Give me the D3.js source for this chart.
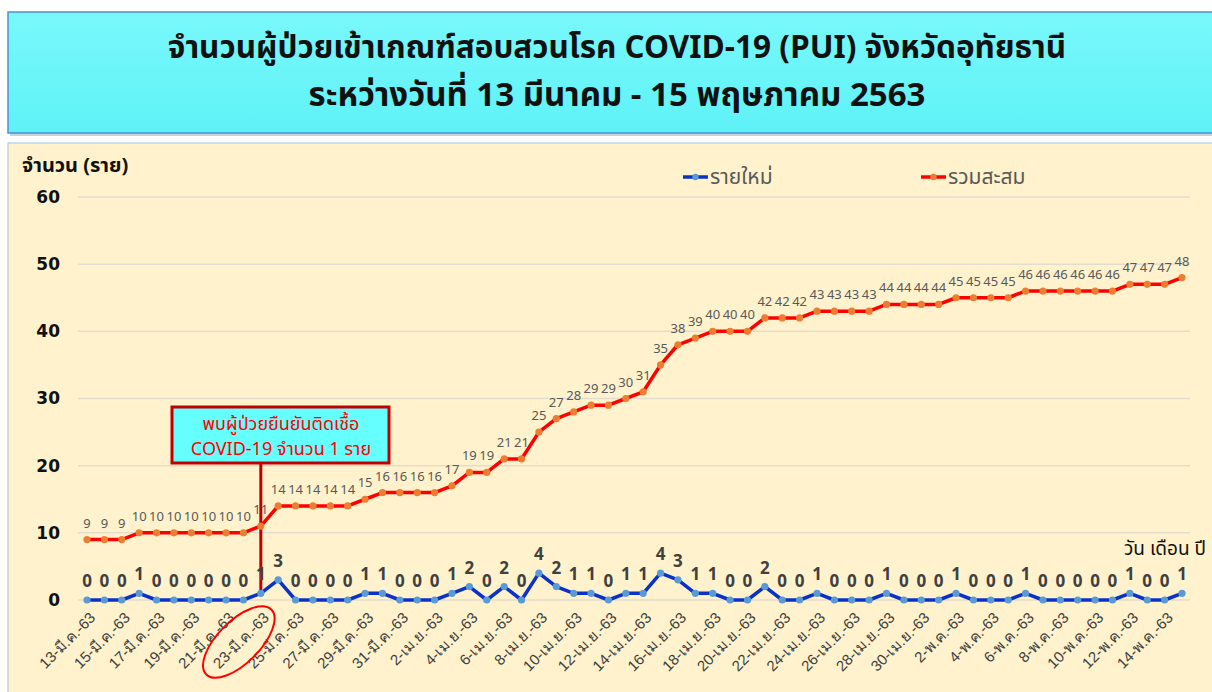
<!DOCTYPE html>
<html>
<head>
<meta charset="utf-8">
<script src="https://cdn.jsdelivr.net/npm/d3@7"></script>
<style>
  body { margin: 0; background: #fff; }
  svg { display: block; font-family: "Noto Sans Thai", "Leelawadee UI", Tahoma, "DejaVu Sans", sans-serif; }
</style>
</head>
<body>
<svg id="chart" width="1212" height="692"></svg>
<script>
// วันที่ (แกน X)
var dates = [
  "13-มี.ค.-63","14-มี.ค.-63","15-มี.ค.-63","16-มี.ค.-63","17-มี.ค.-63","18-มี.ค.-63","19-มี.ค.-63","20-มี.ค.-63",
  "21-มี.ค.-63","22-มี.ค.-63","23-มี.ค.-63","24-มี.ค.-63","25-มี.ค.-63","26-มี.ค.-63","27-มี.ค.-63","28-มี.ค.-63",
  "29-มี.ค.-63","30-มี.ค.-63","31-มี.ค.-63",
  "1-เม.ย.-63","2-เม.ย.-63","3-เม.ย.-63","4-เม.ย.-63","5-เม.ย.-63","6-เม.ย.-63","7-เม.ย.-63","8-เม.ย.-63",
  "9-เม.ย.-63","10-เม.ย.-63","11-เม.ย.-63","12-เม.ย.-63","13-เม.ย.-63","14-เม.ย.-63","15-เม.ย.-63","16-เม.ย.-63",
  "17-เม.ย.-63","18-เม.ย.-63","19-เม.ย.-63","20-เม.ย.-63","21-เม.ย.-63","22-เม.ย.-63","23-เม.ย.-63","24-เม.ย.-63",
  "25-เม.ย.-63","26-เม.ย.-63","27-เม.ย.-63","28-เม.ย.-63","29-เม.ย.-63","30-เม.ย.-63",
  "1-พ.ค.-63","2-พ.ค.-63","3-พ.ค.-63","4-พ.ค.-63","5-พ.ค.-63","6-พ.ค.-63","7-พ.ค.-63","8-พ.ค.-63",
  "9-พ.ค.-63","10-พ.ค.-63","11-พ.ค.-63","12-พ.ค.-63","13-พ.ค.-63","14-พ.ค.-63","15-พ.ค.-63"
];

// รายใหม่
var newCases = [
  0,0,0,1,0,0,0,0,0,0,1,3,0,0,0,0,1,1,0,
  0,0,1,2,0,2,0,4,2,1,1,0,1,1,4,3,1,1,0,0,2,0,0,1,0,0,0,1,0,0,
  0,1,0,0,0,1,0,0,0,0,0,1,0,0,1
];

// รวมสะสม
var cumulative = [
  9,9,9,10,10,10,10,10,10,10,11,14,14,14,14,14,15,16,16,
  16,16,17,19,19,21,21,25,27,28,29,29,30,31,35,38,39,40,40,40,42,42,42,43,43,43,43,44,44,44,
  44,45,45,45,45,46,46,46,46,46,46,47,47,47,48
];

var yTicks = [0, 10, 20, 30, 40, 50, 60];

var titleLines = [
  "จำนวนผู้ป่วยเข้าเกณฑ์สอบสวนโรค COVID-19 (PUI) จังหวัดอุทัยธานี",
  "ระหว่างวันที่ 13 มีนาคม - 15 พฤษภาคม 2563"
];
var noteLines = ["พบผู้ป่วยยืนยันติดเชื้อ", "COVID-19 จำนวน 1 ราย"];
var noteDate = "23-มี.ค.-63";

var svg = d3.select("#chart");

// ----- title box
var defs = svg.append("defs");
var grad = defs.append("linearGradient").attr("id", "tg").attr("x1", 0).attr("y1", 0).attr("x2", 0).attr("y2", 1);
grad.append("stop").attr("offset", "0%").attr("stop-color", "#79f8fb");
grad.append("stop").attr("offset", "100%").attr("stop-color", "#5ef2f7");

svg.append("rect").attr("x", 10).attr("y", 14).attr("width", 1204).attr("height", 122)
    .attr("fill", "#9aa6b0").attr("opacity", 0.5);
svg.append("rect").attr("x", 8).attr("y", 12).attr("width", 1206).attr("height", 121)
    .attr("fill", "url(#tg)").attr("stroke", "#4f8fd6").attr("stroke-width", 1.5);

svg.selectAll(".title").data(titleLines).enter().append("text")
    .attr("class", "title")
    .attr("x", 617).attr("y", function(d, i) { return 58 + i * 48; })
    .attr("text-anchor", "middle")
    .attr("font-size", function(d, i) { return i === 0 ? 31.5 : 33; })
    .attr("font-weight", "bold").attr("fill", "#111")
    .text(function(d) { return d; });

// ----- chart area
svg.append("rect").attr("x", 8).attr("y", 143).attr("width", 1206).attr("height", 552)
    .attr("fill", "#fff2cc").attr("stroke", "#9cc3e6").attr("stroke-width", 1);

var margin = {left: 78, right: 22, top: 197, bottom: 92};
var plotW = 1212 - margin.left - margin.right,
    plotH = 692 - margin.top - margin.bottom;

var x = d3.scalePoint().domain(dates).range([87 - margin.left, 1182 - margin.left]);
var y = d3.scaleLinear().domain([0, 60]).range([plotH, 0]);

var g = svg.append("g").attr("transform", "translate(" + margin.left + "," + margin.top + ")");

// gridlines
g.append("g").selectAll("line").data(yTicks).enter().append("line")
    .attr("x1", 0).attr("x2", plotW)
    .attr("y1", function(d) { return y(d); }).attr("y2", function(d) { return y(d); })
    .attr("stroke", "#e3ddd0").attr("stroke-width", 1.5);

// y axis
var yAxis = g.append("g").call(d3.axisLeft(y).tickValues(yTicks).tickSize(0).tickPadding(18));
yAxis.select(".domain").remove();
yAxis.selectAll("text").attr("font-size", 17).attr("font-weight", "bold").attr("fill", "#111")
    .attr("font-family", "Tahoma, 'DejaVu Sans', sans-serif");

// x axis
var xAxis = g.append("g").attr("transform", "translate(0," + plotH + ")")
    .call(d3.axisBottom(x).tickValues(dates.filter(function(d, i) { return i % 2 === 0; })).tickSize(0));
xAxis.select(".domain").remove();
xAxis.selectAll("text")
    .attr("font-size", 15).attr("fill", "#404040")
    .attr("text-anchor", "end")
    .attr("transform", "translate(5,15) rotate(-45)")
    .attr("dy", "0.35em").attr("y", 0).attr("x", 0);

// axis titles
svg.append("text").attr("x", 22).attr("y", 172).attr("font-size", 20).attr("font-weight", "bold")
    .attr("fill", "#111").text("จำนวน (ราย)");
svg.append("text").attr("x", 1206).attr("y", 555).attr("text-anchor", "end").attr("font-size", 19)
    .attr("fill", "#111").text("วัน เดือน ปี");

// annotation line
var noteX = x(noteDate);
g.append("line").attr("x1", noteX).attr("x2", noteX)
    .attr("y1", 462 - margin.top).attr("y2", y(0) - 8)
    .attr("stroke", "#c00000").attr("stroke-width", 3);

// lines
var line = function(vals) {
  return d3.line().x(function(d, i) { return x(dates[i]); }).y(function(d) { return y(d); })(vals);
};

g.append("path").attr("d", line(cumulative)).attr("fill", "none")
    .attr("stroke", "#ff0000").attr("stroke-width", 3.5).attr("stroke-linejoin", "round");
g.selectAll(".cdot").data(cumulative).enter().append("circle")
    .attr("cx", function(d, i) { return x(dates[i]); }).attr("cy", function(d) { return y(d); })
    .attr("r", 3.6).attr("fill", "#ed7d31");
g.selectAll(".clab").data(cumulative).enter().append("text")
    .attr("x", function(d, i) { return x(dates[i]); }).attr("y", function(d) { return y(d) - 12; })
    .attr("text-anchor", "middle").attr("font-size", 13).attr("fill", "#595959")
    .text(function(d) { return d; });

g.append("path").attr("d", line(newCases)).attr("fill", "none")
    .attr("stroke", "#0a32c8").attr("stroke-width", 3.5).attr("stroke-linejoin", "round");
g.selectAll(".ndot").data(newCases).enter().append("circle")
    .attr("cx", function(d, i) { return x(dates[i]); }).attr("cy", function(d) { return y(d); })
    .attr("r", 3.6).attr("fill", "#5b9bd5");
g.selectAll(".nlab").data(newCases).enter().append("text")
    .attr("x", function(d, i) { return x(dates[i]); }).attr("y", function(d) { return y(d) - 13; })
    .attr("text-anchor", "middle").attr("font-size", 17).attr("font-weight", "bold").attr("fill", "#404040")
    .text(function(d) { return d; });

// annotation box
svg.append("rect").attr("x", 172).attr("y", 407).attr("width", 217).attr("height", 56)
    .attr("fill", "#66ffff").attr("stroke", "#c00000").attr("stroke-width", 3);
svg.selectAll(".note").data(noteLines).enter().append("text")
    .attr("x", 281).attr("y", function(d, i) { return 430 + i * 25; })
    .attr("text-anchor", "middle").attr("font-size", 18).attr("fill", "#ff0000")
    .text(function(d) { return d; });

// ellipse round the date label
svg.append("ellipse").attr("cx", 0).attr("cy", 0).attr("rx", 46).attr("ry", 21)
    .attr("transform", "translate(" + (margin.left + noteX - 22) + "," + (margin.top + plotH + 42) + ") rotate(-45)")
    .attr("fill", "none").attr("stroke", "#ff0000").attr("stroke-width", 2);

// legend
var legend = [
  {name: "รายใหม่", line: "#0a32c8", dot: "#5b9bd5", x: 683},
  {name: "รวมสะสม", line: "#ff0000", dot: "#ed7d31", x: 921}
];
var lg = svg.selectAll(".lg").data(legend).enter().append("g")
    .attr("transform", function(d) { return "translate(" + d.x + ",177)"; });
lg.append("line").attr("x1", 0).attr("x2", 25).attr("y1", 0).attr("y2", 0)
    .attr("stroke", function(d) { return d.line; }).attr("stroke-width", 3.5);
lg.append("circle").attr("cx", 12.5).attr("cy", 0).attr("r", 3.2).attr("fill", function(d) { return d.dot; });
lg.append("text").attr("x", 27).attr("y", 7).attr("font-size", 21).attr("fill", "#595959")
    .text(function(d) { return d.name; });
</script>
</body>
</html>
